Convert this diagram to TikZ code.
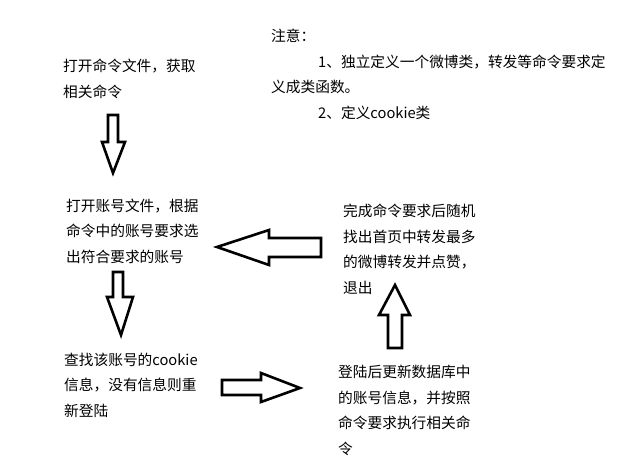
\documentclass[tikz,border=0pt]{standalone}
\usepackage{fontspec}
\setmainfont{Noto Sans CJK SC}
\begin{document}
\begin{tikzpicture}[x=1pt,y=-1pt,
  txt/.style={anchor=base west,inner sep=0pt,align=left,
    font=\fontsize{14.7}{25.7}\selectfont},
  blockarrow/.style={draw=black,line width=2.6pt,fill=white,line join=miter}]
\useasboundingbox (0,0) rectangle (634,468);
% texts (anchored at the baseline of their last line)
\node[txt] (note) at (271,118.6) {注意：\\
\hspace{47pt}1、独立定义一个微博类，转发等命令要求定\\
义成类函数。\\
\hspace{47pt}2、定义cookie类};
\node[txt] (s1) at (63,97.6) {打开命令文件，获取\\相关命令};
\node[txt] (s2) at (66,262.6) {打开账号文件，根据\\命令中的账号要求选\\出符合要求的账号};
\node[txt] (s3) at (343,293.6) {完成命令要求后随机\\找出首页中转发最多\\的微博转发并点赞，\\退出};
\node[txt] (s4) at (64,416.6) {查找该账号的cookie\\信息，没有信息则重\\新登陆};
\node[txt] (s5) at (338,454.6) {登陆后更新数据库中\\的账号信息，并按照\\命令要求执行相关命\\令};
% block arrows
\draw[blockarrow] (108,115) -- (118,115) -- (118,142) -- (125,142) -- (113,173) -- (102,142) -- (108,142) -- cycle;
\draw[blockarrow] (321,238) -- (321,257) -- (269,257) -- (269,265) -- (217,247) -- (269,230) -- (269,238) -- cycle;
\draw[blockarrow] (113,272) -- (123,272) -- (123,297) -- (133,297) -- (121,335) -- (107,297) -- (113,297) -- cycle;
\draw[blockarrow] (222,380) -- (261,380) -- (261,373) -- (300,388) -- (261,402) -- (261,395) -- (222,395) -- cycle;
\draw[blockarrow] (395,285) -- (410,315) -- (402,315) -- (402,348) -- (388,348) -- (388,315) -- (379,315) -- cycle;
\end{tikzpicture}
\end{document}
